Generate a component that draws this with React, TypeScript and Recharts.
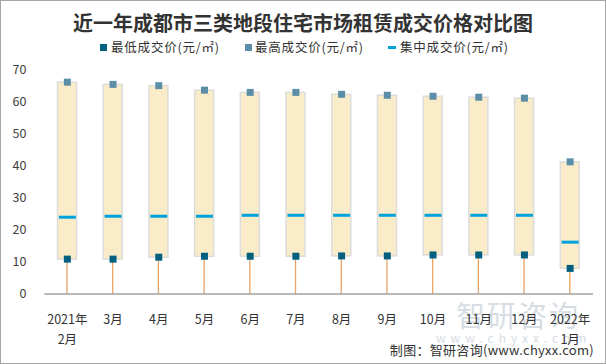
import React from "react";
import { ComposedChart, Bar, Scatter, XAxis, YAxis } from "recharts";

const categories = ["2021年\n2月", "3月", "4月", "5月", "6月", "7月", "8月", "9月", "10月", "11月", "12月", "2022年\n1月"];
const lowPrice = [10.9, 10.9, 11.5, 11.8, 11.8, 11.8, 11.9, 11.9, 12.2, 12.2, 12.2, 8.0];
const highPrice = [66.2, 65.5, 65.1, 63.7, 63.0, 63.0, 62.4, 62.1, 61.8, 61.5, 61.2, 41.3];
const midPrice = [24.0, 24.3, 24.3, 24.3, 24.6, 24.6, 24.6, 24.6, 24.6, 24.6, 24.6, 16.2];
const yTicks = [0, 10, 20, 30, 40, 50, 60, 70];

const seriesNames = ["最低成交价(元/㎡)", "最高成交价(元/㎡)", "集中成交价(元/㎡)"];

const data = categories.map((c, i) => ({
  cat: c,
  low: lowPrice[i],
  high: highPrice[i],
  mid: midPrice[i],
  span: highPrice[i] - lowPrice[i],
}));

const FONT = "'Microsoft YaHei', 'Noto Sans CJK SC', sans-serif";
const LOW_C = "#03617F";
const HIGH_C = "#5C8FA7";
const MID_C = "#00A2DC";
const BOX_FILL = "#FBECC9";
const BOX_STROKE = "#DCDCDC";
const STEM_C = "#EBA465";

const StemShape = (p: any) => {
  const cx = p.x + p.width / 2;
  return <line x1={cx} x2={cx} y1={p.y} y2={p.y + p.height} stroke={STEM_C} strokeWidth={1.3} />;
};

const BoxShape = (p: any) => (
  <rect x={p.x} y={p.y} width={p.width} height={p.height} fill={BOX_FILL} stroke={BOX_STROKE} strokeWidth={1.5} />
);

const Square = (color: string) => (p: any) =>
  <rect x={p.cx - 3.5} y={p.cy - 3.5} width={7} height={7} fill={color} />;

const Dash = (p: any) => <rect x={p.cx - 8.5} y={p.cy - 1.5} width={17} height={3} fill={MID_C} />;

const XTick = (p: any) => {
  const lines = String(p.payload.value).split("\n");
  return (
    <text x={p.x} y={p.y} textAnchor="middle" fontSize={12.5} fill="#333" fontFamily={FONT}>
      {lines.map((l, i) => (
        <tspan key={i} x={p.x} dy={i === 0 ? 22 : 20}>
          {l}
        </tspan>
      ))}
    </text>
  );
};

export default function App() {
  return (
    <div
      style={{
        position: "absolute",
        left: 0,
        top: 0,
        width: 606,
        height: 364,
        boxSizing: "border-box",
        border: "1px solid #A6A6A6",
        background: "#fff",
        fontFamily: FONT,
      }}
    >
      <div style={{ position: "absolute", left: -1, top: -1, width: 606, height: 364 }}>
        <div
          style={{
            position: "absolute",
            left: 0,
            width: 606,
            top: 10,
            textAlign: "center",
            fontSize: 20,
            fontWeight: "bold",
            color: "#333",
            lineHeight: "26px",
          }}
        >
          近一年成都市三类地段住宅市场租赁成交价格对比图
        </div>
        {/* watermark */}
        <div style={{ position: "absolute", left: 456, top: 297, fontSize: 29, color: "#D6DDE4", letterSpacing: 2, lineHeight: "34px" }}>
          智研咨询
        </div>
        <div style={{ position: "absolute", left: 436, top: 330, fontSize: 12, color: "#D6DDE4", letterSpacing: 5, lineHeight: "16px" }}>
          www.chyxx.com
        </div>
        <ComposedChart
          width={606}
          height={364}
          data={data}
          margin={{ top: 70, right: 13, bottom: 0, left: 0 }}
        >
          <XAxis
            dataKey="cat"
            height={70}
            interval={0}
            tickLine={false}
            axisLine={{ stroke: "#A0A0A0", strokeWidth: 1.3 }}
            tick={<XTick />}
          />
          <YAxis
            width={44.5}
            domain={[0, 70]}
            ticks={yTicks}
            axisLine={false}
            tickLine={false}
            tickSize={0}
            tickMargin={18}
            tick={{ fontSize: 12.5, fill: "#404040", fontFamily: FONT }}
          />
          <Bar dataKey="low" stackId="a" barSize={19} shape={<StemShape />} isAnimationActive={false} />
          <Bar dataKey="span" stackId="a" barSize={19} shape={<BoxShape />} isAnimationActive={false} />
          <Scatter dataKey="mid" shape={Dash} isAnimationActive={false} />
          <Scatter dataKey="low" shape={Square(LOW_C)} isAnimationActive={false} />
          <Scatter dataKey="high" shape={Square(HIGH_C)} isAnimationActive={false} />
        </ComposedChart>
        {/* legend */}
        <div style={{ position: "absolute", top: 39, left: 0, width: 606, height: 16, fontSize: 12.5, color: "#333", lineHeight: "16px", letterSpacing: 0.8 }}>
          <div style={{ position: "absolute", left: 100, top: 4.5, width: 7, height: 7, background: LOW_C }} />
          <div style={{ position: "absolute", left: 111, top: 0, whiteSpace: "nowrap" }}>{seriesNames[0]}</div>
          <div style={{ position: "absolute", left: 245, top: 4.5, width: 7, height: 7, background: HIGH_C }} />
          <div style={{ position: "absolute", left: 255, top: 0, whiteSpace: "nowrap" }}>{seriesNames[1]}</div>
          <div style={{ position: "absolute", left: 388, top: 6.5, width: 8, height: 3, background: MID_C }} />
          <div style={{ position: "absolute", left: 400, top: 0, whiteSpace: "nowrap" }}>{seriesNames[2]}</div>
        </div>
        <div
          style={{
            position: "absolute",
            right: 12,
            top: 341,
            fontSize: 13,
            color: "#333",
            whiteSpace: "nowrap",
            lineHeight: "18px",
            letterSpacing: 0.3,
          }}
        >
          制图：智研咨询(www.chyxx.com)
        </div>
      </div>
    </div>
  );
}
